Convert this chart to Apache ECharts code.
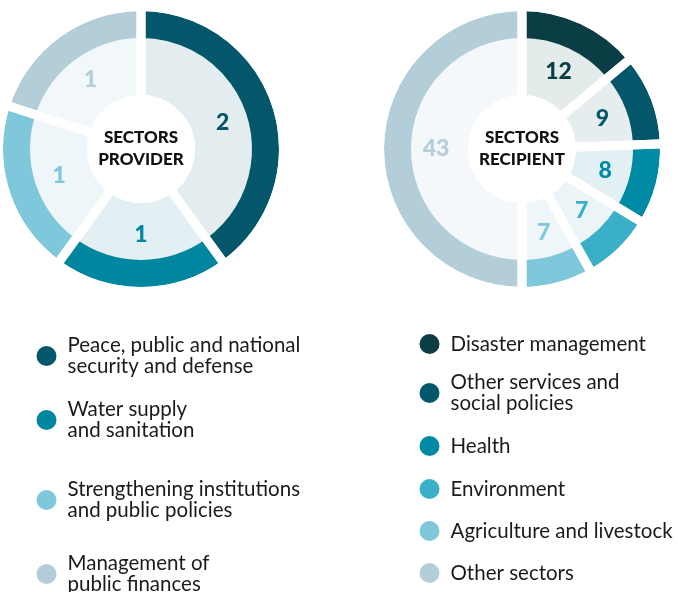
<!DOCTYPE html>
<html>
<head>
<meta charset="utf-8">
<script src="https://cdn.jsdelivr.net/npm/echarts@6/dist/echarts.min.js"></script>
<style>
html,body{margin:0;padding:0;background:#fff;}
#chart{width:678px;height:592px;}
</style>
</head>
<body>
<div id="chart"></div>
<script>
// ---- data ----
var providerNames = [
  'Peace, public and national security and defense',
  'Water supply and sanitation',
  'Strengthening institutions and public policies',
  'Management of public finances'
];
var providerLegendLabels = [
  'Peace, public and national\nsecurity and defense',
  'Water supply\nand sanitation',
  'Strengthening institutions\nand public policies',
  'Management of\npublic finances'
];
var providerValues = [2, 1, 1, 1];

var recipientNames = [
  'Disaster management',
  'Other services and social policies',
  'Health',
  'Environment',
  'Agriculture and livestock',
  'Other sectors'
];
var recipientLegendLabels = [
  'Disaster management',
  'Other services and\nsocial policies',
  'Health',
  'Environment',
  'Agriculture and livestock',
  'Other sectors'
];
var recipientValues = [12, 9, 8, 7, 7, 43];

var centerTitles = ['SECTORS\nPROVIDER', 'SECTORS\nRECIPIENT'];

// ---- styles ----
var providerRing = ['#04566A', '#00879F', '#7FC7DB', '#B3CED9'];
var providerFill = ['#E3ECEE', '#E2F0F4', '#EEF6F9', '#F2F7F9'];
var recipientRing = ['#0B3D45', '#04566A', '#008AA3', '#3AAFC8', '#7FC7DB', '#B3CED9'];
var recipientFill = ['#E4EBEB', '#E5EDEF', '#E2F0F4', '#EBF5F8', '#EEF6F9', '#F4F8FA'];

var providerCenter = [141, 149];
var recipientCenter = [522, 149];
var providerLegendY = [356, 420, 500, 574];
var recipientLegendY = [344, 393, 446, 489, 531, 573];

var FONT = 'Lato, "Noto Sans", sans-serif';
var GAP = 9;
var R_HOLE = 54, R_RING_IN = 111, R_FILL_OUT = 112, R_OUT = 138;

function makeData(names, values, colors) {
  return names.map(function (n, i) {
    return { name: n, value: values[i], itemStyle: { color: colors[i] } };
  });
}
function makeFillData(names, values, fills, rings) {
  return names.map(function (n, i) {
    return { name: n, value: values[i], itemStyle: { color: fills[i] },
      label: { color: rings[i] } };
  });
}

function donutSeries(center, names, values, rings, fills, title) {
  var common = { type: 'pie', center: center, startAngle: 90, clockwise: true,
    animation: false, silent: true, emphasis: { disabled: true } };
  return [
    Object.assign({}, common, {
      name: title + '-ring', z: 3,
      radius: [R_RING_IN, R_OUT],
      label: { show: false }, labelLine: { show: false },
      data: makeData(names, values, rings)
    }),
    Object.assign({}, common, {
      name: title + '-fill', z: 2,
      radius: [R_HOLE, R_FILL_OUT],
      label: { show: true, position: 'inside', formatter: '{c}',
        fontFamily: FONT, fontWeight: 900, fontSize: 23 },
      labelLine: { show: false },
      data: makeFillData(names, values, fills, rings)
    }),
    Object.assign({}, common, {
      name: title + '-gaps', z: 4,
      radius: [R_HOLE - GAP / 2, R_OUT + GAP / 2],
      label: { show: false }, labelLine: { show: false },
      itemStyle: { color: 'rgba(0,0,0,0)', borderColor: '#ffffff', borderWidth: GAP },
      data: names.map(function (n, i) { return { name: n + ' ', value: values[i] }; })
    }),
    Object.assign({}, common, {
      name: title + '-center', z: 5,
      radius: [0, R_HOLE - 2],
      itemStyle: { color: 'rgba(0,0,0,0)' },
      label: { show: true, position: 'center', formatter: title,
        fontFamily: FONT, fontWeight: 900, fontSize: 17, lineHeight: 22, color: '#111111' },
      labelLine: { show: false },
      data: [{ name: title, value: 1 }]
    })
  ];
}

function legends(names, labels, ys, left) {
  return names.map(function (n, i) {
    var lines = labels[i].split('\n').length;
    return {
      data: [n], left: left, top: ys[i] - lines * 21 / 2,
      orient: 'vertical', padding: 0, selectedMode: false,
      icon: 'circle', itemWidth: 20, itemHeight: 20,
      formatter: function () { return labels[i]; },
      textStyle: { fontFamily: FONT, fontSize: 20.5, lineHeight: 21, color: '#1b1b1b',
        padding: [0, 0, 0, 6] }
    };
  });
}

var chart = echarts.init(document.getElementById('chart'), null, { renderer: 'canvas' });
chart.setOption({
  backgroundColor: '#ffffff',
  animation: false,
  legend: legends(providerNames, providerLegendLabels, providerLegendY, 36.5)
    .concat(legends(recipientNames, recipientLegendLabels, recipientLegendY, 419.5)),
  series: donutSeries(providerCenter, providerNames, providerValues, providerRing, providerFill, centerTitles[0])
    .concat(donutSeries(recipientCenter, recipientNames, recipientValues, recipientRing, recipientFill, centerTitles[1]))
});
</script>
</body>
</html>
